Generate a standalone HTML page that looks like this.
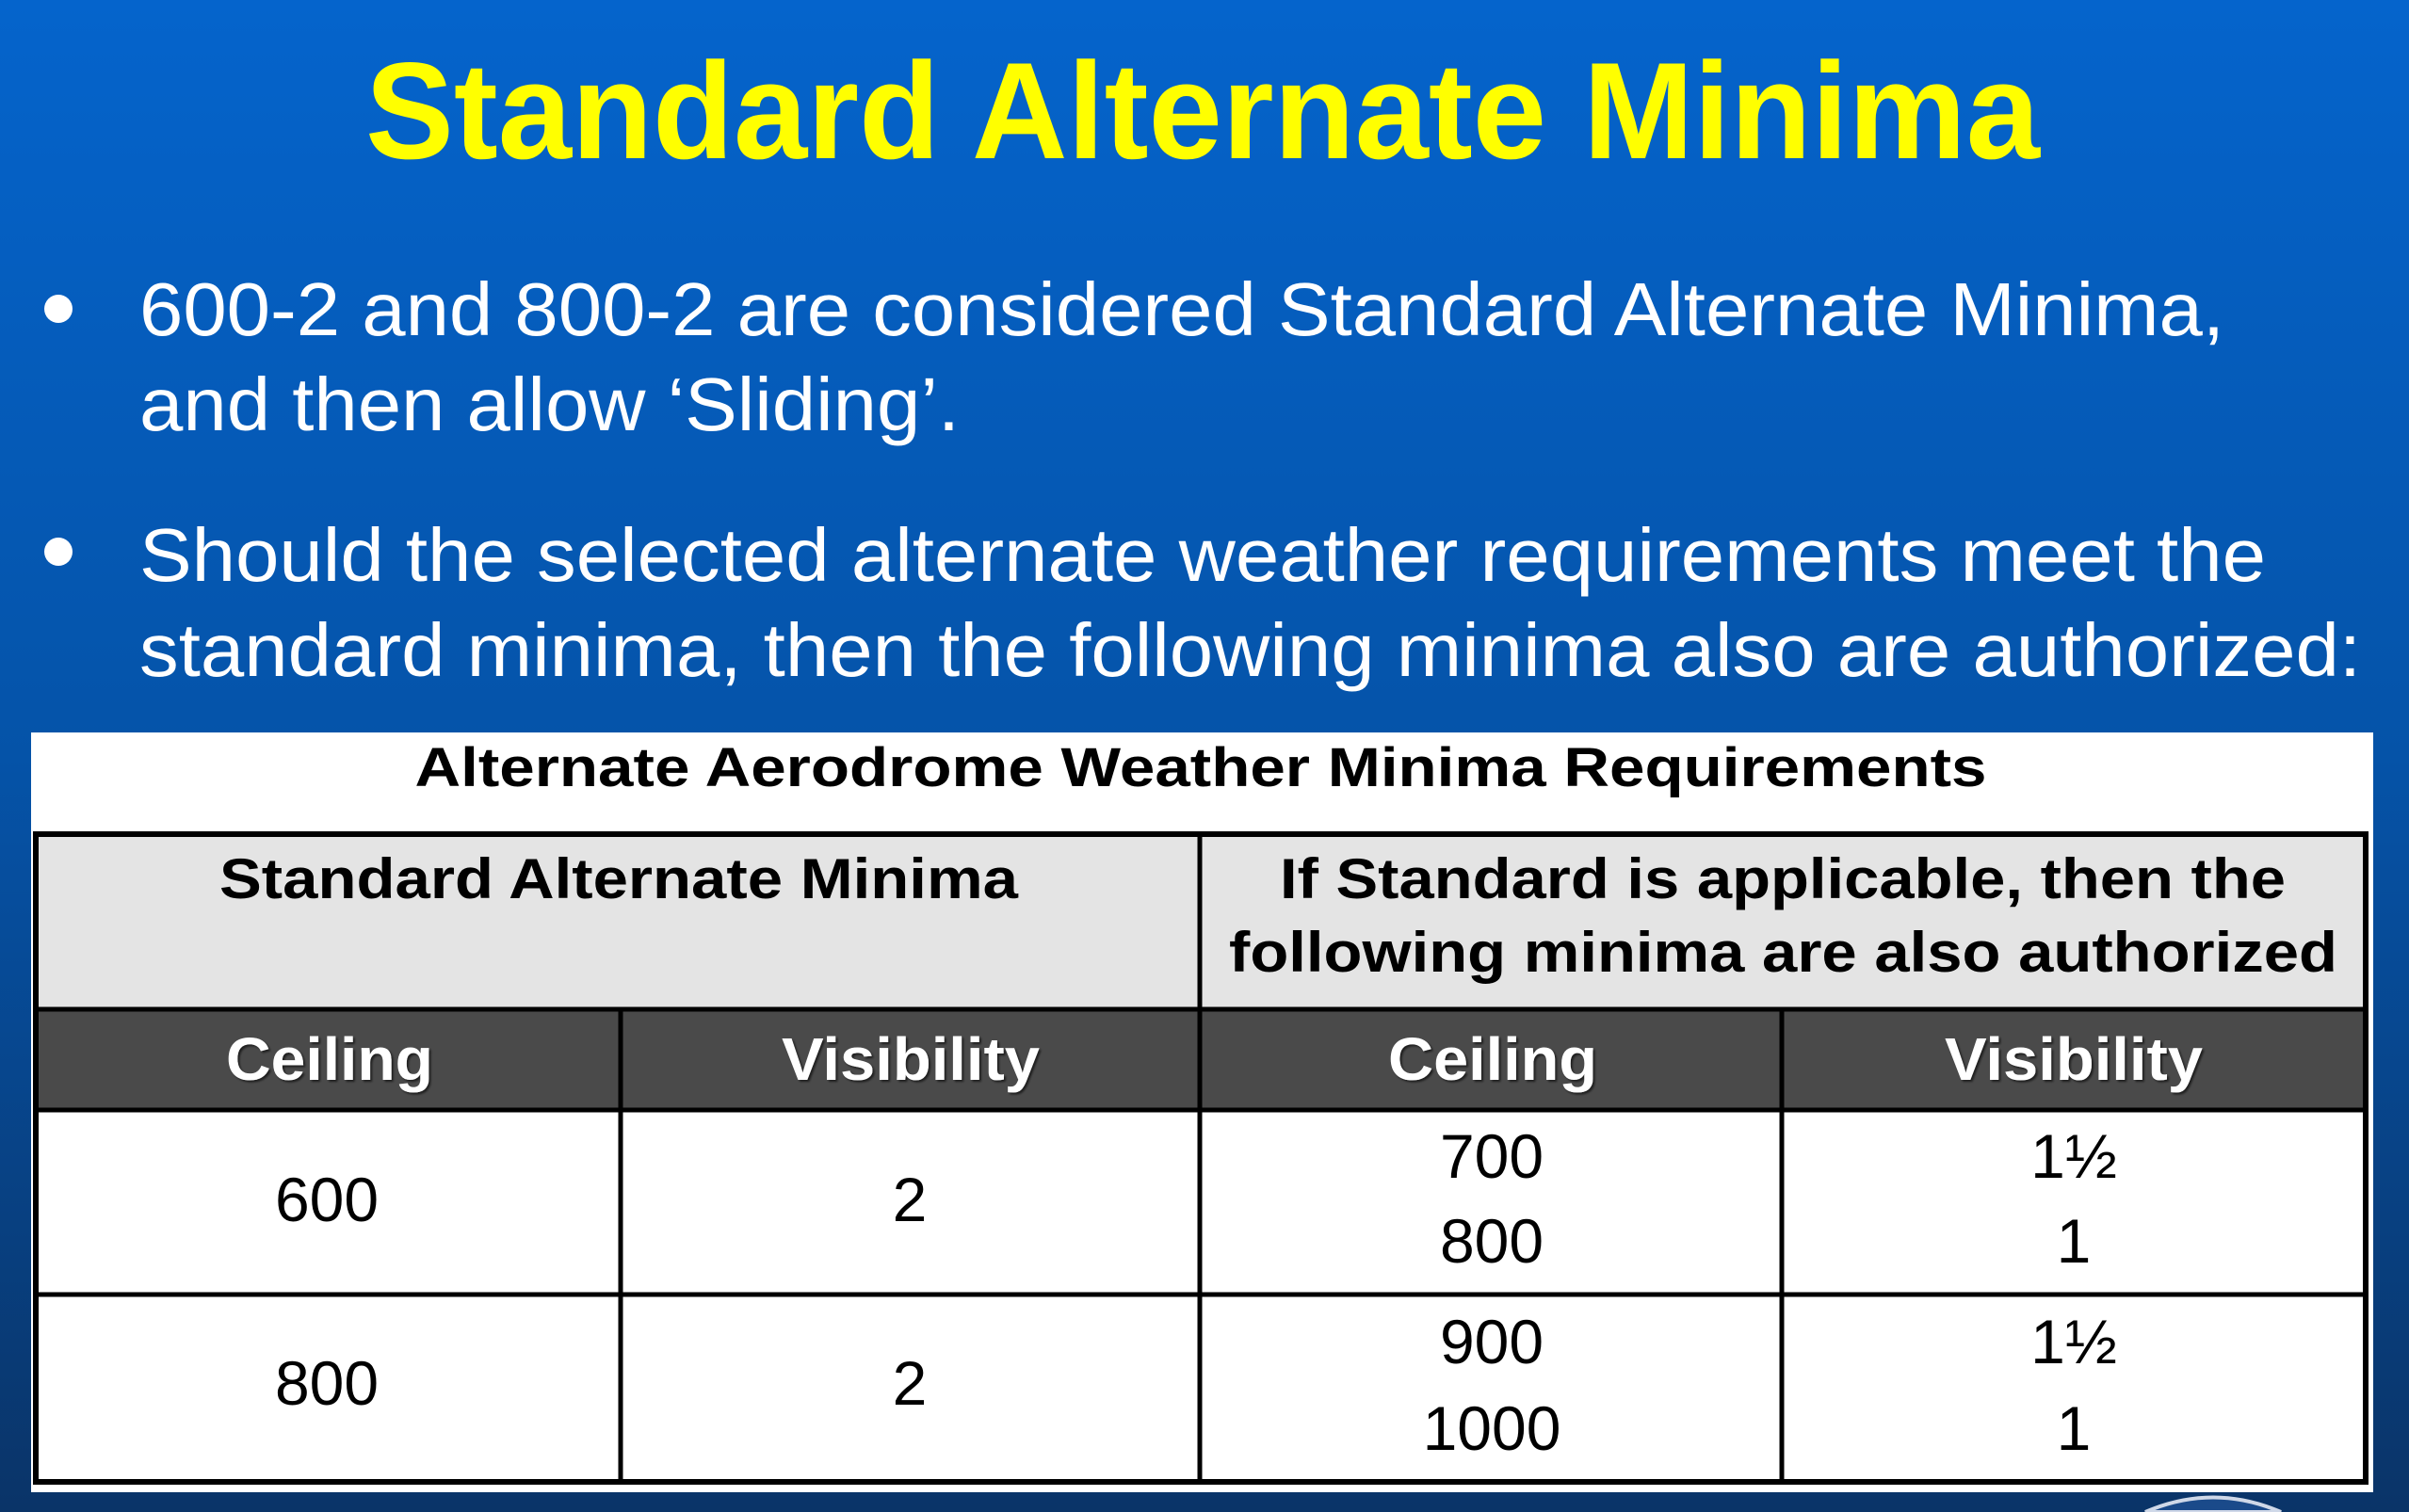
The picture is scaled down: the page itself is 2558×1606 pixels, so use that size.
<!DOCTYPE html>
<html><head><meta charset="utf-8"><style>
html,body{margin:0;padding:0;width:2558px;height:1606px;overflow:hidden}
svg{display:block}
text{font-family:"Liberation Sans",Arial,sans-serif}
</style></head><body>
<svg width="2558" height="1606" viewBox="0 0 2558 1606">
<defs><linearGradient id="bg" x1="0" y1="0" x2="0" y2="1">
<stop offset="0" stop-color="#0564cc"/><stop offset="0.5" stop-color="#0553a8"/><stop offset="1" stop-color="#0a3468"/></linearGradient>
<filter id="sh"><feDropShadow dx="2" dy="2" stdDeviation="1" flood-color="#000" flood-opacity="0.6"/></filter></defs>
<rect width="2558" height="1606" fill="url(#bg)"/>
<text x="1277" y="168" text-anchor="middle" font-size="146" font-weight="bold" fill="#ffff00" textLength="1778" lengthAdjust="spacingAndGlyphs">Standard Alternate Minima</text>
<circle cx="62" cy="328" r="15" fill="#fff"/>
<circle cx="62" cy="586" r="15" fill="#fff"/>
<g fill="#fff" font-size="80">
<text x="148" y="356" textLength="2214" lengthAdjust="spacingAndGlyphs">600-2 and 800-2 are considered Standard Alternate Minima,</text>
<text x="148" y="457" textLength="871" lengthAdjust="spacingAndGlyphs">and then allow ‘Sliding’.</text>
<text x="148" y="617" textLength="2258" lengthAdjust="spacingAndGlyphs">Should the selected alternate weather requirements meet the</text>
<text x="148" y="718" textLength="2359" lengthAdjust="spacingAndGlyphs">standard minima, then the following minima also are authorized:</text>
</g>
<rect x="33" y="778" width="2487" height="807" fill="#fff"/>
<text x="1275" y="835" text-anchor="middle" font-size="58" font-weight="bold" fill="#000" textLength="1669" lengthAdjust="spacingAndGlyphs">Alternate Aerodrome Weather Minima Requirements</text>
<rect x="38" y="886" width="2474" height="186" fill="#e4e4e4"/>
<rect x="38" y="1072" width="2474" height="107" fill="#4a4a4a"/>
<g stroke="#000" fill="none">
<rect x="38" y="886" width="2474" height="688" stroke-width="6"/>
<line x1="38" y1="1072" x2="2512" y2="1072" stroke-width="5"/>
<line x1="38" y1="1179" x2="2512" y2="1179" stroke-width="5"/>
<line x1="38" y1="1375" x2="2512" y2="1375" stroke-width="5"/>
<line x1="1274" y1="886" x2="1274" y2="1574" stroke-width="5"/>
<line x1="659" y1="1072" x2="659" y2="1574" stroke-width="5"/>
<line x1="1892" y1="1072" x2="1892" y2="1574" stroke-width="5"/>
</g>
<g font-size="60" font-weight="bold" fill="#000">
<text x="233" y="954" textLength="848" lengthAdjust="spacingAndGlyphs">Standard Alternate Minima</text>
<text x="1359" y="954" textLength="1068" lengthAdjust="spacingAndGlyphs">If Standard is applicable, then the</text>
<text x="1305" y="1032" textLength="1177" lengthAdjust="spacingAndGlyphs">following minima are also authorized</text>
</g>
<g font-size="64" font-weight="bold" fill="#fff" filter="url(#sh)">
<text x="240" y="1147" textLength="220" lengthAdjust="spacingAndGlyphs">Ceiling</text>
<text x="830" y="1147" textLength="274" lengthAdjust="spacingAndGlyphs">Visibility</text>
<text x="1474" y="1147" textLength="222" lengthAdjust="spacingAndGlyphs">Ceiling</text>
<text x="2065" y="1147" textLength="274" lengthAdjust="spacingAndGlyphs">Visibility</text>
</g>
<g font-size="66" fill="#000" text-anchor="middle">
<text x="347" y="1297">600</text>
<text x="966" y="1297">2</text>
<text x="1584" y="1251">700</text>
<text x="1584" y="1341">800</text>
<text x="2202" y="1251">1½</text>
<text x="2202" y="1341">1</text>
<text x="347" y="1492">800</text>
<text x="966" y="1492">2</text>
<text x="1584" y="1448">900</text>
<text x="1584" y="1540">1000</text>
<text x="2202" y="1448">1½</text>
<text x="2202" y="1540">1</text>
</g>
<path d="M2278 1606 Q2350 1575 2422 1606 Z" fill="#1a4a8a" stroke="#cfd8e8" stroke-width="4"/>
</svg>
</body></html>
